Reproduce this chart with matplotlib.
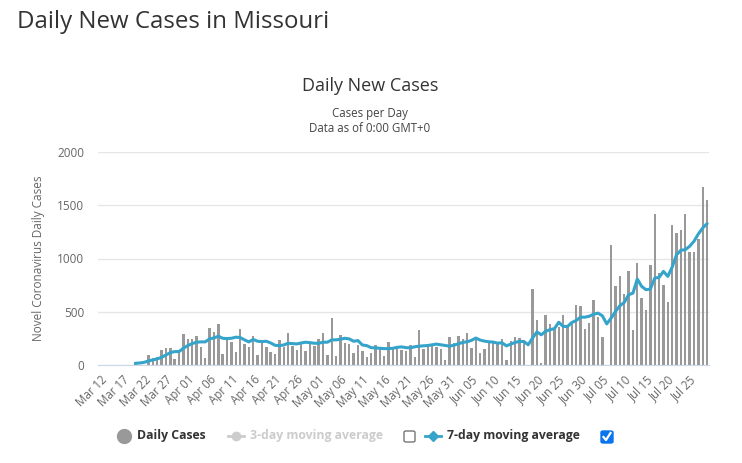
import numpy as np
import pandas as pd
import matplotlib.pyplot as plt
from matplotlib.patches import FancyBboxPatch
from matplotlib.lines import Line2D

plt.rcParams['font.family'] = ['Open Sans', 'DejaVu Sans']

W, H = 742, 463

# one category per day, Mar 12 .. Jul 29 2020
days = pd.date_range('2020-03-12', '2020-07-29', freq='D')

# daily new cases (no data before Mar 20)
daily_cases = [None] * 8 + [
    31, 0, 0, 97, 69, 79, 144, 163, 163, 60,
    126, 295, 248, 248, 276, 173, 69, 352, 314, 389,
    107, 248, 220, 126, 342, 201, 173, 276, 97, 210,
    173, 126, 107, 239, 173, 305, 182, 144, 201, 135,
    201, 182, 248, 305, 97, 446, 88, 286, 210, 201,
    116, 192, 135, 79, 116, 192, 173, 88, 220, 154,
    163, 144, 135, 186, 76, 332, 152, 174, 183, 171,
    152, 47, 265, 209, 275, 246, 297, 161, 237, 114,
    152, 218, 209, 218, 246, 47, 228, 265, 256, 228,
    0, 711, 427, 16, 474, 389, 341, 360, 474, 361,
    410, 565, 556, 339, 399, 612, 455, 267, 0, 1130,
    744, 838, 669, 885, 330, 961, 631, 518, 942, 1422,
    864, 754, 593, 1319, 1243, 1272, 1422, 1064, 1064, 1187,
    1667, 1545,
]

# 7-day moving average
avg_7day = [None] * 8 + [
    16, 19, 25, 38, 47, 57, 72, 94, 116, 126,
    126, 157, 182, 201, 214, 217, 217, 245, 254, 270,
    251, 248, 251, 261, 258, 236, 217, 240, 223, 220,
    223, 207, 185, 182, 188, 204, 201, 198, 207, 214,
    210, 204, 204, 214, 214, 236, 236, 242, 251, 245,
    223, 229, 188, 182, 163, 160, 157, 154, 154, 157,
    166, 170, 163, 161, 171, 177, 180, 183, 190, 196,
    190, 183, 177, 186, 199, 212, 218, 231, 253, 234,
    224, 218, 215, 205, 209, 180, 196, 212, 221, 221,
    190, 253, 310, 284, 316, 332, 341, 401, 363, 361,
    399, 418, 449, 449, 458, 477, 487, 462, 386, 440,
    502, 556, 587, 659, 675, 807, 738, 707, 713, 816,
    823, 879, 832, 920, 1036, 1077, 1083, 1115, 1162, 1231,
    1287, 1328,
]

tick_labels = ['Mar 12', 'Mar 17', 'Mar 22', 'Mar 27', 'Apr 01', 'Apr 06',
               'Apr 11', 'Apr 16', 'Apr 21', 'Apr 26', 'May 01', 'May 06',
               'May 11', 'May 16', 'May 21', 'May 26', 'May 31', 'Jun 05',
               'Jun 10', 'Jun 15', 'Jun 20', 'Jun 25', 'Jun 30', 'Jul 05',
               'Jul 10', 'Jul 15', 'Jul 20', 'Jul 25']
y_ticks = [0, 500, 1000, 1500, 2000]

x = np.arange(len(days))
bars = np.array([np.nan if v is None else v for v in daily_cases], dtype=float)
line = np.array([np.nan if v is None else v for v in avg_7day], dtype=float)


def fx(px):
    return px / W


def fy(py):
    return 1 - py / H


fig = plt.figure(figsize=(W / 100, H / 100), dpi=100)
ax = fig.add_axes([fx(98.3), fy(365), fx(611), 213 / H])

ax.bar(x, bars, width=0.55, color='#999999', zorder=2)
ax.plot(x, line, color='#35a4cb', lw=2.2, zorder=3, solid_capstyle='round')

ax.set_xlim(-0.5, len(days) - 0.5)
ax.set_ylim(0, 2000)
ax.set_yticks(y_ticks)
ax.set_yticklabels([str(v) for v in y_ticks])
ax.grid(axis='y', color='#e6e6e6', lw=1, zorder=0)
ax.set_axisbelow(True)
for s in ['top', 'right', 'left']:
    ax.spines[s].set_visible(False)
ax.spines['bottom'].set_color('#ccd6eb')
ax.tick_params(axis='y', length=0, pad=10, labelsize=8.5, labelcolor='#666666')

ax.set_xticks(x[::5])
ax.set_xticklabels(tick_labels, rotation=45, ha='right', rotation_mode='anchor',
                   fontsize=8.3, color='#666666')
ax.tick_params(axis='x', length=0, pad=6)

# titles
fig.text(fx(17), fy(22), 'Daily New Cases in Missouri', fontsize=17.3,
         color='#333333', ha='left', va='center')
fig.text(fx(370), fy(86), 'Daily New Cases', fontsize=13,
         color='#333333', ha='center', va='center')
fig.text(fx(370), fy(113), 'Cases per Day', fontsize=8.3,
         color='#444444', ha='center', va='center')
fig.text(fx(370), fy(128), 'Data as of 0:00 GMT+0', fontsize=8.3,
         color='#444444', ha='center', va='center')
fig.text(fx(39), fy(258), 'Novel Coronavirus Daily Cases', fontsize=8.5,
         color='#666666', rotation=90, ha='center', va='center')

# legend
ly = fy(436)
fig.add_artist(Line2D([fx(124)], [ly], marker='o', ms=10, color='#999999',
                      transform=fig.transFigure))
fig.text(fx(137), ly, 'Daily Cases', fontsize=8.8, fontweight='bold',
         color='#333333', ha='left', va='center')

fig.add_artist(Line2D([fx(228), fx(244)], [ly, ly], color='#cccccc', lw=2,
                      transform=fig.transFigure))
fig.add_artist(Line2D([fx(236)], [ly], marker='o', ms=6, color='#cccccc',
                      transform=fig.transFigure))
fig.text(fx(250), ly, '3-day moving average', fontsize=8.8, fontweight='bold',
         color='#cccccc', ha='left', va='center')
fig.add_artist(FancyBboxPatch((fx(404), fy(442)), fx(11), 11 / H,
                              boxstyle='round,pad=0,rounding_size=0.003',
                              fill=False, edgecolor='#767676', lw=1,
                              transform=fig.transFigure))

fig.add_artist(Line2D([fx(425), fx(441)], [ly, ly], color='#35a4cb', lw=2,
                      transform=fig.transFigure))
fig.add_artist(Line2D([fx(433)], [ly], marker='D', ms=5, color='#35a4cb',
                      transform=fig.transFigure))
fig.text(fx(447), ly, '7-day moving average', fontsize=8.8, fontweight='bold',
         color='#333333', ha='left', va='center')
fig.add_artist(FancyBboxPatch((fx(601), fy(443)), fx(12), 12 / H,
                              boxstyle='round,pad=0,rounding_size=0.003',
                              facecolor='#0b74ec', edgecolor='#0b74ec', lw=1,
                              transform=fig.transFigure))
fig.add_artist(Line2D([fx(603.5), fx(606), fx(610.5)], [fy(437), fy(440), fy(433)],
                      color='white', lw=1.6, transform=fig.transFigure))

fig.savefig('out.png', dpi=100)
